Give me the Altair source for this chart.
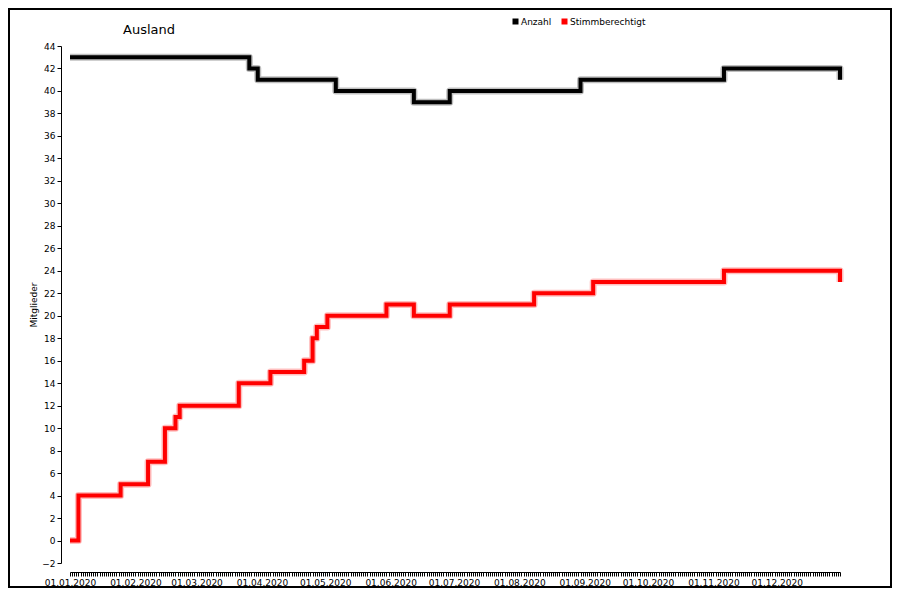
import altair as alt
import pandas as pd

series_names = ["Anzahl", "Stimmberechtigt"]
line_colors = ["#000000", "#ff0000"]

anzahl_dates = ["2020-01-01", "2020-03-26", "2020-03-30", "2020-05-06", "2020-06-12",
                "2020-06-29", "2020-08-30", "2020-11-06", "2020-12-31"]
anzahl_values = [43, 42, 41, 40, 39, 40, 41, 42, 41]

stimm_dates = ["2020-01-01", "2020-01-05", "2020-01-25", "2020-02-07", "2020-02-15",
               "2020-02-20", "2020-02-22", "2020-03-21", "2020-04-05", "2020-04-21",
               "2020-04-25", "2020-04-27", "2020-05-02", "2020-05-30", "2020-06-12",
               "2020-06-29", "2020-08-08", "2020-09-05", "2020-11-06", "2020-12-31"]
stimm_values = [0, 4, 5, 7, 10, 11, 12, 14, 15, 16, 18, 19, 20, 21, 20, 21, 22, 23, 24, 23]

y_ticks = list(range(-2, 46, 2))

rows = [{"Serie": "Anzahl", "Datum": d, "Wert": v} for d, v in zip(anzahl_dates, anzahl_values)]
rows += [{"Serie": "Stimmberechtigt", "Datum": d, "Wert": v} for d, v in zip(stimm_dates, stimm_values)]
df = pd.DataFrame(rows)

FONT = "DejaVu Sans"
W, H = 770, 517
PAD = {"left": 62, "top": 38, "right": 52, "bottom": 25}

x_enc = alt.X(
    "Datum:T",
    title=None,
    scale=alt.Scale(type="utc", domain=[alt.DateTime(year=2020, month=1, date=1, utc=True),
                                        alt.DateTime(year=2020, month=12, date=31, utc=True)]),
    axis=alt.Axis(
        offset=9, grid=False, tickCount={"interval": "day", "step": 1}, tickSize=4,
        labelExpr="utcdate(datum.value) == 1 ? utcFormat(datum.value, '%d.%m.%Y') : ''",
        labelOverlap=False, labelFlush=False, labelBound=False, labelPadding=2,
        labelFont=FONT, labelFontSize=9, labelColor="black",
        domainColor="black", tickColor="black", labelAngle=0,
    ),
)
y_enc = alt.Y(
    "Wert:Q",
    title="Mitglieder",
    scale=alt.Scale(domain=[-2, 44], nice=False, zero=False),
    axis=alt.Axis(
        values=y_ticks, offset=9, grid=False, tickSize=4, labelPadding=2,
        labelFont=FONT, labelFontSize=9, labelColor="black",
        domainColor="black", tickColor="black",
        titleFont=FONT, titleFontSize=9, titleFontWeight="normal", titleColor="black",
        titlePadding=3,
    ),
)

color_scale = alt.Scale(domain=series_names, range=line_colors)

base = alt.Chart(df)

glow = base.mark_line(interpolate="step-after", strokeWidth=7, strokeOpacity=0.25,
                      strokeJoin="round").encode(
    x=x_enc, y=y_enc,
    color=alt.Color("Serie:N", scale=color_scale),
)

main = base.mark_line(interpolate="step-after", strokeWidth=4).encode(
    x=x_enc, y=y_enc,
    color=alt.Color(
        "Serie:N",
        scale=color_scale,
        legend=alt.Legend(
            orient="none", legendX=441, legendY=-29, direction="horizontal", title=None,
            symbolType="square", symbolSize=1, symbolStrokeWidth=5, symbolOpacity=1,
            labelFont=FONT, labelFontSize=9, labelColor="black",
            columnPadding=2, labelOffset=1, padding=0,
        ),
    ),
)

single = pd.DataFrame({"Titel": ["Ausland"]})

frame = alt.Chart(single).mark_rect(
    fillOpacity=0, stroke="black", strokeWidth=2
).encode(
    x=alt.value(-PAD["left"] + 1), x2=alt.value(W + PAD["right"] - 1),
    y=alt.value(-PAD["top"] + 1), y2=alt.value(H + PAD["bottom"] - 1),
)

title = alt.Chart(single).mark_text(
    align="left", baseline="alphabetic", font=FONT, fontSize=13, color="black"
).encode(
    text="Titel:N", x=alt.value(53), y=alt.value(-12),
)

chart = alt.layer(frame, title, glow, main).properties(
    width=W, height=H,
    autosize=alt.AutoSizeParams(type="none"),
    padding=PAD,
    background="white",
).configure_view(stroke=None)

chart.save("out.html", embed_options={"renderer": "svg", "actions": False})
